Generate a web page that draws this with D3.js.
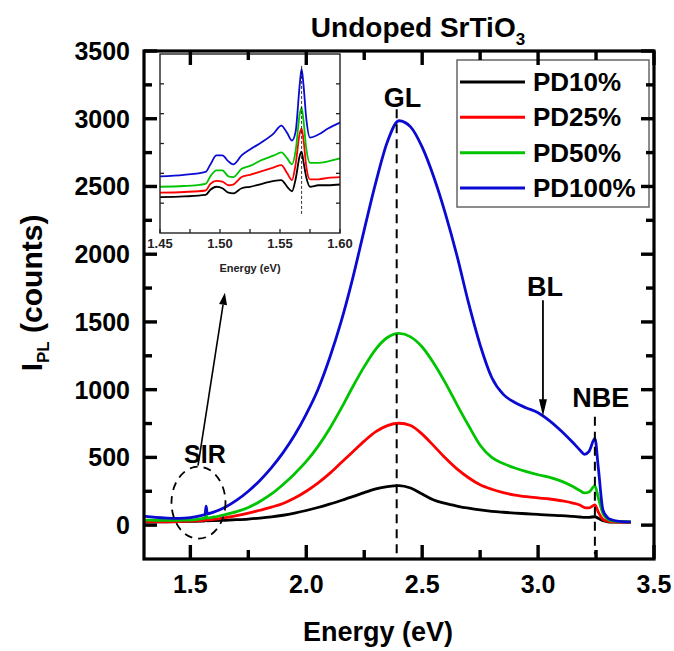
<!DOCTYPE html>
<html>
<head>
<meta charset="utf-8">
<script src="https://cdn.jsdelivr.net/npm/d3@7"></script>
</head>
<body style="margin:0">
<div id="wrapper"></div>
<script>
// main spectra, energy in eV, intensity in counts
const energy = [1.30, 1.35, 1.40, 1.45, 1.50, 1.55, 1.563, 1.568, 1.573, 1.60, 1.65, 1.70, 1.75, 1.80, 1.85, 1.90, 1.95, 2.00, 2.05, 2.10, 2.15, 2.20, 2.25, 2.30, 2.35, 2.40, 2.45, 2.50, 2.55, 2.60, 2.65, 2.70, 2.75, 2.80, 2.85, 2.90, 2.95, 3.00, 3.05, 3.10, 3.15, 3.18, 3.20, 3.22, 3.245, 3.26, 3.28, 3.30, 3.32, 3.35, 3.40];
const pd10 = [24, 24, 25, 26, 28, 30, 32, 38, 32, 33, 36, 40, 45, 52, 61, 73, 89, 108, 130, 155, 182, 210, 240, 268, 285, 292, 274, 230, 185, 160, 141, 125, 112, 102, 95, 89, 84, 79, 74, 70, 64, 60, 58, 58, 62, 50, 32, 25, 23, 22, 21];
const pd25 = [24, 24, 25, 27, 29, 34, 36, 48, 37, 42, 55, 70, 88, 110, 133, 160, 200, 250, 310, 380, 460, 540, 620, 690, 735, 752, 735, 672, 585, 495, 415, 350, 298, 265, 240, 222, 210, 201, 193, 180, 163, 148, 130, 128, 150, 95, 42, 28, 24, 23, 22];
const pd50 = [37, 36, 35, 36, 38, 48, 52, 72, 54, 60, 78, 100, 130, 175, 230, 300, 380, 470, 580, 710, 860, 1020, 1170, 1300, 1385, 1415, 1390, 1315, 1195, 1050, 890, 735, 590, 500, 455, 422, 395, 372, 352, 325, 285, 255, 238, 245, 290, 200, 85, 45, 32, 27, 24];
const pd100 = [66, 57, 52, 50, 56, 72, 78, 140, 84, 96, 132, 184, 250, 330, 425, 535, 665, 820, 1000, 1230, 1500, 1820, 2180, 2530, 2830, 2985, 2940, 2790, 2570, 2300, 1990, 1640, 1330, 1090, 965, 905, 865, 830, 770, 695, 610, 555, 523, 545, 640, 420, 110, 55, 38, 28, 24];

// inset (SIR region)
const insetEnergy = [1.450, 1.470, 1.488, 1.492, 1.497, 1.502, 1.507, 1.511, 1.518, 1.525, 1.535, 1.545, 1.551, 1.556, 1.560, 1.563, 1.5665, 1.568, 1.5695, 1.572, 1.575, 1.582, 1.590, 1.600];
const insetPd10 = [24, 24.5, 25.5, 29, 31, 30, 27, 26.5, 30, 31, 33, 35, 35.5, 31, 28, 36, 52, 54.5, 48, 37, 31, 32, 32, 32.5];
const insetPd25 = [27, 27.5, 28.5, 33, 35, 34.5, 32, 32.5, 37.5, 39, 41.5, 44, 45.5, 40, 35.5, 46, 67, 70, 63, 44, 36, 36, 37, 37.5];
const insetPd50 = [31, 31.5, 33, 38, 42, 42, 38, 37.5, 43, 45, 49, 52, 54, 50, 46, 55, 80, 84, 76, 56, 47, 47, 48, 50];
const insetPd100 = [38, 39, 41, 46, 52, 52, 48, 46, 52, 56, 61, 67, 72, 67, 62, 68, 100, 110, 100, 76, 64, 66, 70, 74];

const seriesNames = ["PD10%", "PD25%", "PD50%", "PD100%"];
const seriesColors = ["#000000", "#ff0000", "#00c400", "#0a0ad2"];

const xTicks = [1.5, 2.0, 2.5, 3.0, 3.5];
const xMinorTicks = [1.75, 2.25, 2.75, 3.25];
const yTicks = [0, 500, 1000, 1500, 2000, 2500, 3000, 3500];
const yMinorTicks = [250, 750, 1250, 1750, 2250, 2750, 3250];
const insetXTicks = [1.45, 1.50, 1.55, 1.60];
const insetXMinorTicks = [1.475, 1.525, 1.575];
const insetYTicks = [20, 40, 60, 80, 100];

const glEnergy = 2.39;
const nbeEnergy = 3.245;
const sirEnergy = 1.568;

const fontFamily = "Liberation Sans, Arial, sans-serif";

// inward tick marks along one side of a frame
function drawTicks(g, values, scale, side, pos, len, w, color) {
	const vertical = side == "bottom" || side == "top";
	const dir = (side == "bottom" || side == "right") ? -1 : 1;
	g.selectAll(null)
		.data(values)
		.enter().append("rect")
		.attr("x", d => vertical ? scale(d) - w / 2 : Math.min(pos, pos + dir * len))
		.attr("y", d => vertical ? Math.min(pos, pos + dir * len) : scale(d) - w / 2)
		.attr("width", vertical ? w : len)
		.attr("height", vertical ? len : w)
		.attr("fill", color);
}

function drawChart() {
	const width = 674;
	const height = 651;

	const canvas = d3.select("#wrapper")
		.append("svg")
		.attr("width", width)
		.attr("height", height)
		.attr("font-family", fontFamily)
		.attr("font-weight", "bold");

	const xScale = d3.scaleLinear()
		.domain([1.3, 3.5])
		.range([144, 654]);

	const yScale = d3.scaleLinear()
		.domain([-250, 3500])
		.range([559, 51]);

	const allSeries = [pd10, pd25, pd50, pd100];

	const line = d3.line()
		.x(d => xScale(d[0]))
		.y(d => yScale(d[1]))
		.curve(d3.curveMonotoneX);

	canvas.selectAll(".spectrum")
		.data(allSeries)
		.enter().append("path")
		.attr("class", "spectrum")
		.attr("d", s => line(s.map((v, i) => [energy[i], v])))
		.attr("fill", "none")
		.attr("stroke", (d, i) => seriesColors[i])
		.attr("stroke-width", 2.8);

	// dashed guides for GL and NBE
	canvas.append("line")
		.attr("x1", xScale(glEnergy)).attr("x2", xScale(glEnergy))
		.attr("y1", yScale(3070)).attr("y2", yScale(-215))
		.attr("stroke", "#000").attr("stroke-width", 2)
		.attr("stroke-dasharray", "9,6");
	canvas.append("line")
		.attr("x1", xScale(nbeEnergy)).attr("x2", xScale(nbeEnergy))
		.attr("y1", yScale(800)).attr("y2", yScale(-215))
		.attr("stroke", "#000").attr("stroke-width", 2)
		.attr("stroke-dasharray", "9,6");

	// labels
	const labelFont = "27px";
	canvas.append("text").text("GL")
		.attr("x", xScale(2.415)).attr("y", yScale(3085))
		.attr("text-anchor", "middle").attr("font-size", labelFont);
	canvas.append("text").text("BL")
		.attr("x", xScale(3.03)).attr("y", yScale(1695))
		.attr("text-anchor", "middle").attr("font-size", labelFont);
	canvas.append("text").text("NBE")
		.attr("x", xScale(3.27)).attr("y", yScale(870))
		.attr("text-anchor", "middle").attr("font-size", labelFont);

	// BL arrow
	const blX = xScale(3.021);
	canvas.append("line")
		.attr("x1", blX).attr("x2", blX)
		.attr("y1", yScale(1660)).attr("y2", yScale(900))
		.attr("stroke", "#000").attr("stroke-width", 1.8);
	canvas.append("path")
		.attr("d", d3.line()([[blX - 4, yScale(930)], [blX + 4, yScale(930)], [blX, yScale(805)]]) + "Z")
		.attr("fill", "#000");

	// SIR circle and arrow
	canvas.append("ellipse")
		.attr("cx", xScale(1.535)).attr("cy", yScale(166))
		.attr("rx", 27).attr("ry", 36)
		.attr("fill", "none").attr("stroke", "#000")
		.attr("stroke-width", 1.8).attr("stroke-dasharray", "8,6");

	const a0 = [xScale(1.533), yScale(440)];
	const a1 = [xScale(1.649), yScale(1715)];
	const ang = Math.atan2(a1[1] - a0[1], a1[0] - a0[0]);
	const headLen = 12, headW = 4;
	const hb = [a1[0] - headLen * Math.cos(ang), a1[1] - headLen * Math.sin(ang)];
	canvas.append("line")
		.attr("x1", a0[0]).attr("y1", a0[1])
		.attr("x2", hb[0]).attr("y2", hb[1])
		.attr("stroke", "#000").attr("stroke-width", 1.6);
	canvas.append("path")
		.attr("d", d3.line()([
			[hb[0] + headW * Math.sin(ang), hb[1] - headW * Math.cos(ang)],
			[hb[0] - headW * Math.sin(ang), hb[1] + headW * Math.cos(ang)],
			a1]) + "Z")
		.attr("fill", "#000");

	canvas.append("text").text("SIR")
		.attr("x", xScale(1.563)).attr("y", yScale(462))
		.attr("text-anchor", "middle").attr("font-size", "25px");

	// ---- inset ----
	const xInset = d3.scaleLinear()
		.domain([1.45, 1.60])
		.range([160, 340]);
	const yInset = d3.scaleLinear()
		.domain([0, 120])
		.range([233, 54]);

	const inset = canvas.append("g");
	inset.append("rect")
		.attr("x", 160).attr("y", 54)
		.attr("width", 180).attr("height", 179)
		.attr("fill", "#fff");

	const insetLine = d3.line()
		.x(d => xInset(d[0]))
		.y(d => yInset(d[1]))
		.curve(d3.curveMonotoneX);

	inset.selectAll(".insetSpectrum")
		.data([insetPd10, insetPd25, insetPd50, insetPd100])
		.enter().append("path")
		.attr("class", "insetSpectrum")
		.attr("d", s => insetLine(s.map((v, i) => [insetEnergy[i], v])))
		.attr("fill", "none")
		.attr("stroke", (d, i) => seriesColors[i])
		.attr("stroke-width", 1.8);

	inset.append("line")
		.attr("x1", xInset(sirEnergy)).attr("x2", xInset(sirEnergy))
		.attr("y1", yInset(112)).attr("y2", yInset(12))
		.attr("stroke", "#000").attr("stroke-width", 0.8)
		.attr("stroke-dasharray", "3,2");

	inset.append("rect")
		.attr("x", 160).attr("y", 54)
		.attr("width", 180).attr("height", 179)
		.attr("fill", "none").attr("stroke", "#222").attr("stroke-width", 1.4);

	inset.selectAll(".insetTick")
		.data(insetXTicks)
		.enter().append("text")
		.attr("class", "insetTick")
		.attr("x", d => xInset(d))
		.attr("y", 248)
		.attr("text-anchor", "middle")
		.attr("font-size", "13px")
		.attr("fill", "#222")
		.text(d3.format(".2f"));
	inset.append("text").text("Energy (eV)")
		.attr("x", 250).attr("y", 272)
		.attr("text-anchor", "middle")
		.attr("font-size", "11px").attr("fill", "#222");

	// ---- main tick labels and frame ----
	canvas.selectAll(".xLabel")
		.data(xTicks)
		.enter().append("text")
		.attr("class", "xLabel")
		.attr("x", d => xScale(d))
		.attr("y", 593)
		.attr("text-anchor", "middle")
		.attr("font-size", "25px")
		.text(d3.format(".1f"));
	canvas.selectAll(".yLabel")
		.data(yTicks)
		.enter().append("text")
		.attr("class", "yLabel")
		.attr("x", 130)
		.attr("y", d => yScale(d) + 9)
		.attr("text-anchor", "end")
		.attr("font-size", "25px")
		.text(d3.format("d"));

	canvas.append("rect")
		.attr("x", 144).attr("y", 51)
		.attr("width", 510).attr("height", 508)
		.attr("fill", "none").attr("stroke", "#000").attr("stroke-width", 3.2);

	// title and axis titles
	const title = canvas.append("text")
		.attr("x", 418).attr("y", 37)
		.attr("text-anchor", "middle").attr("font-size", "28px");
	title.append("tspan").text("Undoped SrTiO");
	title.append("tspan").text("3").attr("font-size", "17px").attr("dy", 8);

	canvas.append("text").text("Energy (eV)")
		.attr("x", 378).attr("y", 641)
		.attr("text-anchor", "middle").attr("font-size", "27px");

	const yTitle = canvas.append("text")
		.attr("transform", "translate(42,293) rotate(-90)")
		.attr("text-anchor", "middle").attr("font-size", "30px");
	yTitle.append("tspan").text("I");
	yTitle.append("tspan").text("PL").attr("font-size", "17px").attr("dy", 7);
	yTitle.append("tspan").text(" (counts)").attr("dy", -7);

	// legend
	const legend = canvas.append("g");
	legend.append("rect")
		.attr("x", 457).attr("y", 60)
		.attr("width", 192).attr("height", 147)
		.attr("fill", "#fff").attr("stroke", "#666").attr("stroke-width", 1.5);
	const rowY = d3.scalePoint()
		.domain(seriesNames)
		.range([82, 188]);
	seriesNames.forEach((name, i) => {
		legend.append("line")
			.attr("x1", 460).attr("x2", 525)
			.attr("y1", rowY(name)).attr("y2", rowY(name))
			.attr("stroke", seriesColors[i]).attr("stroke-width", 3);
		legend.append("text").text(name)
			.attr("x", 533).attr("y", rowY(name) + 9)
			.attr("font-size", "26px");
	});

	// tick marks last, on top of everything
	const tickG = canvas.append("g").attr("class", "tickMarks");
	drawTicks(tickG, insetXTicks.concat(insetXMinorTicks), xInset, "bottom", 233, 4, 1.3, "#222");
	drawTicks(tickG, insetYTicks, yInset, "left", 160, 4, 1.3, "#222");
	drawTicks(tickG, insetYTicks, yInset, "right", 340, 4, 1.3, "#222");
	drawTicks(tickG, xTicks, xScale, "bottom", 559, 14, 3.4, "#000");
	drawTicks(tickG, xMinorTicks, xScale, "bottom", 559, 9, 3.4, "#000");
	drawTicks(tickG, xTicks, xScale, "top", 51, 14, 3.4, "#000");
	drawTicks(tickG, xMinorTicks, xScale, "top", 51, 9, 3.4, "#000");
	drawTicks(tickG, yTicks, yScale, "left", 144, 13, 3.4, "#000");
	drawTicks(tickG, yMinorTicks, yScale, "left", 144, 8, 3.4, "#000");
	drawTicks(tickG, yTicks, yScale, "right", 654, 13, 3.4, "#000");
	drawTicks(tickG, yMinorTicks, yScale, "right", 654, 8, 3.4, "#000");
}
drawChart();
</script>
</body>
</html>
